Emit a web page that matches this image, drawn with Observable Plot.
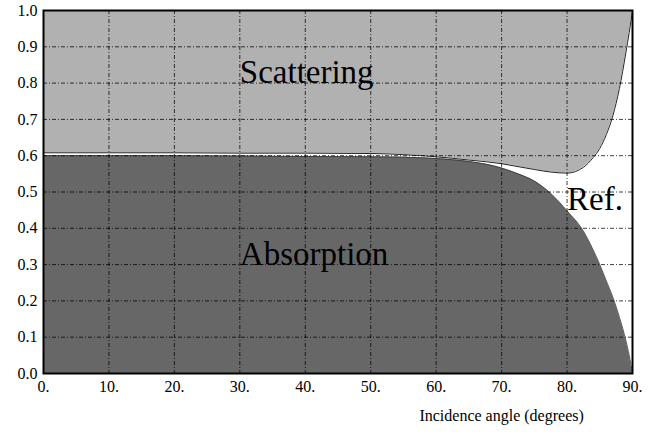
<!DOCTYPE html>
<html>
<head>
<meta charset="utf-8">
<script src="https://cdn.jsdelivr.net/npm/d3@7"></script>
<script src="https://cdn.jsdelivr.net/npm/@observablehq/plot@0.6"></script>
<style>
  html, body { margin: 0; padding: 0; background: white; font-family: "Liberation Serif", serif; }
  #chart svg { display: block; }
</style>
</head>
<body>
<div id="chart"></div>
<script>
// Incidence angle (degrees)
const angles = [0, 10, 20, 30, 40, 50, 55, 60, 65, 70, 72.5, 75, 77.5, 80, 82.5, 84, 85, 86, 87, 88, 89, 89.5, 90];
// Absorption fraction (top of dark region)
const absorption = [0.600, 0.600, 0.600, 0.599, 0.598, 0.597, 0.596, 0.592, 0.584, 0.566, 0.550, 0.530, 0.496, 0.448, 0.392, 0.340, 0.300, 0.255, 0.210, 0.155, 0.090, 0.050, 0.0];
// Absorption + scattering (bottom of light region); reflection is the rest
const absPlusScatter = [0.608, 0.608, 0.608, 0.607, 0.607, 0.606, 0.603, 0.597, 0.588, 0.578, 0.570, 0.562, 0.555, 0.552, 0.568, 0.595, 0.620, 0.658, 0.710, 0.785, 0.885, 0.940, 1.0];

const xTicks = [0, 10, 20, 30, 40, 50, 60, 70, 80, 90];
const yTicks = [0, 0.1, 0.2, 0.3, 0.4, 0.5, 0.6, 0.7, 0.8, 0.9, 1.0];
const xGrid = [10, 20, 30, 40, 50, 60, 70, 80];
const yGrid = [0.1, 0.2, 0.3, 0.4, 0.5, 0.6, 0.7, 0.8, 0.9];

const regionLabels = [
  {name: "Scattering", angle: 30, value: 0.8},
  {name: "Absorption", angle: 30, value: 0.3},
  {name: "Ref.", angle: 80, value: 0.45}
];
const xLabel = "Incidence angle (degrees)";
const xLabelAngle = 70;

const serif = "Liberation Serif";
const data = angles.map((a, i) => ({angle: a, absorption: absorption[i], total: absPlusScatter[i]}));

const chart = Plot.plot({
  width: 652,
  height: 437,
  marginLeft: 43,
  marginRight: 20,
  marginTop: 10,
  marginBottom: 64,
  x: {domain: [0, 90]},
  y: {domain: [0, 1]},
  style: {fontFamily: serif, fontSize: "16px", background: "white", color: "black"},
  marks: [
    Plot.areaY(data, {x: "angle", y1: "total", y2: 1, fill: "#b1b1b1", curve: "monotone-x"}),
    Plot.areaY(data, {x: "angle", y: "absorption", fill: "#676767", curve: "monotone-x"}),
    Plot.lineY(data, {x: "angle", y: "total", stroke: "#222", strokeWidth: 1, curve: "monotone-x"}),
    Plot.lineY(data, {x: "angle", y: "absorption", stroke: "#333", strokeWidth: 0.8, curve: "monotone-x"}),
    Plot.gridX(xGrid, {stroke: "#000", strokeOpacity: 0.75, strokeDasharray: "4,2,1,2", strokeWidth: 1}),
    Plot.gridY(yGrid, {stroke: "#000", strokeOpacity: 0.75, strokeDasharray: "4,2,1,2", strokeWidth: 1}),
    Plot.frame({stroke: "black", strokeWidth: 2}),
    Plot.axisX(xTicks, {tickSize: 0, tickPadding: 7, tickFormat: d => d + ".", label: null, fontSize: 16, fill: "black"}),
    Plot.axisY(yTicks, {tickSize: 0, tickPadding: 6, tickFormat: d3.format(".1f"), label: null, fontSize: 16, fill: "black"}),
    Plot.text(regionLabels, {x: "angle", y: "value", text: "name", textAnchor: "start", lineAnchor: "bottom", fontSize: 33, fill: "black"}),
    Plot.text([xLabel], {x: xLabelAngle, frameAnchor: "bottom", dy: 47, text: d => d, fontSize: 16, fill: "black"})
  ]
});
d3.select(chart).style("font-family", serif);
document.getElementById("chart").appendChild(chart);
</script>
</body>
</html>
